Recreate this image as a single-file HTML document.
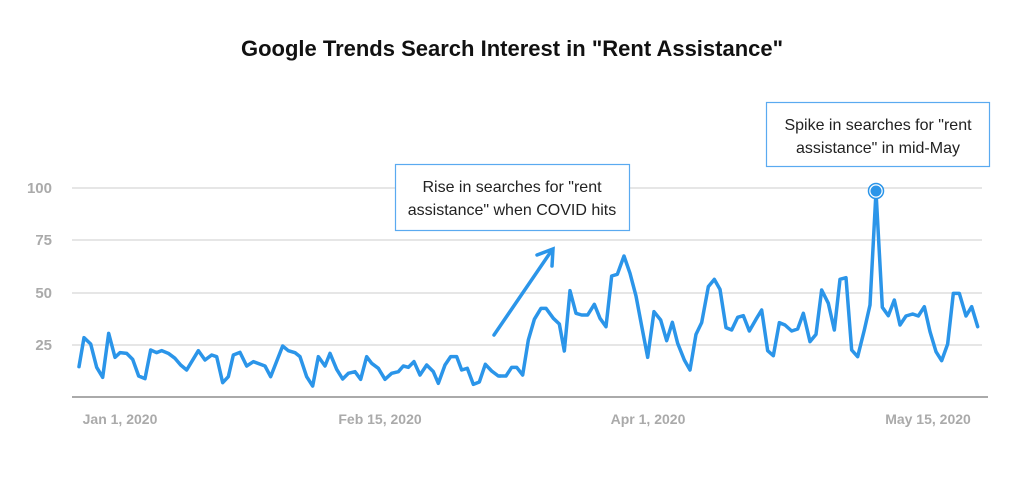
<!DOCTYPE html>
<html><head><style>
body{margin:0;background:#fff;width:1024px;height:476px;overflow:hidden;font-family:"Liberation Sans",sans-serif}
</style></head><body>
<svg width="1024" height="476" xmlns="http://www.w3.org/2000/svg" font-family="Liberation Sans, sans-serif">
<text x="512" y="56" text-anchor="middle" font-size="22" font-weight="bold" fill="#111">Google Trends Search Interest in "Rent Assistance"</text>
<g stroke="#e6e6e6" stroke-width="2">
<line x1="72" x2="982" y1="188" y2="188"/><line x1="72" x2="982" y1="240" y2="240"/>
<line x1="72" x2="982" y1="293" y2="293"/><line x1="72" x2="982" y1="345" y2="345"/>
</g>
<line x1="72" x2="988" y1="397" y2="397" stroke="#aaa" stroke-width="2"/>
<g font-size="15" font-weight="bold" fill="#aaa" text-anchor="end">
<text x="52" y="193">100</text><text x="52" y="245">75</text><text x="52" y="298">50</text><text x="52" y="350">25</text>
</g>
<g font-size="14" font-weight="bold" fill="#aaa" text-anchor="middle">
<text x="120" y="424">Jan 1, 2020</text><text x="380" y="424">Feb 15, 2020</text><text x="648" y="424">Apr 1, 2020</text><text x="928" y="424">May 15, 2020</text>
</g>
<g fill="none" stroke="#2b95e9" stroke-width="10.5" stroke-linejoin="round" stroke-linecap="round">
<polyline transform="translate(60,170) scale(0.33333)" points="57,590 72,503 92,522 110,592 128,622 146,490 165,562 180,548 200,550 218,568 236,618 255,626 272,540 290,548 305,542 325,550 345,565 362,585 380,600 415,542 435,570 455,555 470,560 488,638 505,620 520,555 540,547 560,588 580,575 615,588 632,620 668,528 685,542 705,548 720,560 740,620 758,648 775,560 795,588 810,550 830,598 848,627 865,610 885,605 902,628 920,560 935,580 955,595 975,628 995,610 1015,605 1030,588 1045,592 1062,575 1080,615 1100,585 1120,605 1135,640 1155,585 1172,560 1190,560 1205,600 1222,595 1240,643 1258,636 1276,583 1295,603 1315,618 1320,618"/>
<polyline transform="translate(500,170) scale(0.33333)" points="0,618 18,618 35,592 50,592 68,615 85,510 103,448 123,415 138,415 160,445 178,462 193,543 210,362 228,430 245,435 263,435 283,403 300,445 318,470 335,318 352,313 372,258 390,310 408,378 425,468 443,562 462,425 482,450 500,512 517,457 533,520 553,570 570,600 588,493 605,458 625,350 643,328 660,358 678,473 695,480 713,442 730,437 748,483 768,448 785,420 803,542 820,557 838,458 855,465 875,483 893,477 910,430 930,515 948,493 965,360 985,400 1003,480 1020,328 1038,323 1055,540 1073,560 1093,480 1110,405 1128,65 1147,412 1165,437 1183,390 1200,465 1218,438 1238,432 1255,438 1273,410 1290,485 1308,545 1325,572 1343,522 1360,370 1378,370 1398,438 1415,410 1433,470"/>
</g>
<circle cx="876" cy="191" r="7.5" fill="#fff" stroke="#2b95e9" stroke-width="1.5"/>
<circle cx="876" cy="191" r="5.5" fill="#2b95e9"/>
<g stroke="#2b95e9" stroke-width="3.5" stroke-linecap="round" fill="none">
<line x1="494" y1="335" x2="552" y2="250"/>
<polyline points="537,255 553,249 552,266"/>
</g>
<rect x="395.5" y="164.5" width="234" height="66" fill="#fff" stroke="#5aaaf0" stroke-width="1.2"/>
<text x="512" y="192" text-anchor="middle" font-size="16" fill="#222">Rise in searches for "rent</text>
<text x="512" y="215" text-anchor="middle" font-size="16" fill="#222">assistance" when COVID hits</text>
<rect x="766.5" y="102.5" width="223" height="64" fill="#fff" stroke="#5aaaf0" stroke-width="1.2"/>
<text x="878" y="130" text-anchor="middle" font-size="16" fill="#222">Spike in searches for "rent</text>
<text x="878" y="153" text-anchor="middle" font-size="16" fill="#222">assistance" in mid-May</text>
</svg>
</body></html>
